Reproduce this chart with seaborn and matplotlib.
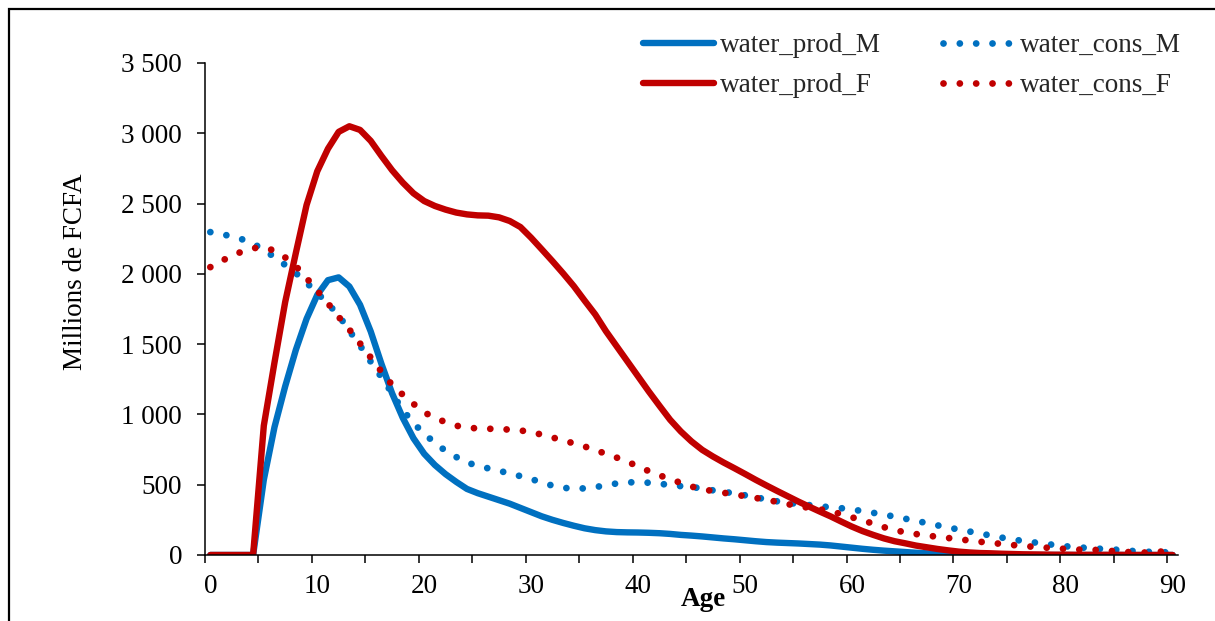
import numpy as np
import pandas as pd
import matplotlib
matplotlib.use("Agg")
import matplotlib.pyplot as plt
import seaborn as sns
from matplotlib.patches import Rectangle
from matplotlib.ticker import FuncFormatter, MultipleLocator

ages = list(range(0, 91))

water_prod_M = [0, 0, 0, 0, 0, 535, 910, 1200, 1460, 1680,
                1850, 1955, 1975, 1910, 1780, 1590, 1360, 1150, 975, 830,
                720, 640, 575, 520, 470, 440, 415, 390, 365, 335,
                305, 275, 250, 228, 208, 190, 177, 168, 163, 161,
                160, 158, 155, 150, 143, 138, 132, 125, 118, 112,
                105, 98, 92, 88, 85, 82, 78, 74, 68, 60,
                52, 44, 37, 31, 26, 21, 16, 12, 9, 6,
                4, 3, 2, 1, 1, 1, 0, 0, 0, 0,
                0, 0, 0, 0, 0, 0, 0, 0, 0, 0, 0]

water_prod_F = [0, 0, 0, 0, 0, 920, 1370, 1800, 2150, 2490,
                2730, 2890, 3010, 3050, 3024, 2946, 2839, 2737, 2649, 2573,
                2518, 2483, 2457, 2436, 2423, 2416, 2414, 2402, 2376, 2333,
                2257, 2174, 2090, 2003, 1912, 1810, 1711, 1592, 1485, 1378,
                1271, 1164, 1062, 962, 879, 808, 748, 701, 658, 618,
                577, 535, 495, 456, 418, 380, 344, 309, 275, 238,
                202, 170, 143, 118, 98, 83, 67, 55, 43, 33,
                24, 18, 14, 12, 9, 7, 5, 4, 3, 2,
                2, 1, 1, 1, 1, 1, 0, 0, 0, 0, 0]

water_cons_M = [2297, 2285, 2265, 2245, 2215, 2172, 2118, 2063, 2005, 1937,
                1863, 1787, 1705, 1595, 1490, 1375, 1265, 1150, 1030, 940,
                860, 800, 740, 697, 657, 636, 616, 599, 580, 561,
                540, 517, 493, 478, 472, 474, 483, 496, 509, 517,
                517, 514, 507, 498, 490, 484, 473, 460, 450, 438,
                425, 410, 396, 382, 372, 362, 355, 346, 340, 333,
                324, 312, 300, 287, 273, 258, 243, 227, 211, 196,
                181, 167, 153, 138, 124, 111, 100, 90, 80, 71,
                62, 56, 50, 45, 42, 36, 30, 25, 22, 20, 18]

water_cons_F = [2048, 2090, 2128, 2160, 2183, 2188, 2165, 2117, 2055, 1970,
                1880, 1790, 1694, 1604, 1505, 1405, 1305, 1210, 1140, 1075,
                1015, 975, 945, 920, 905, 901, 898, 896, 892, 886,
                875, 856, 836, 815, 794, 772, 746, 720, 693, 664,
                630, 597, 567, 540, 513, 487, 468, 455, 443, 430,
                419, 406, 393, 378, 362, 347, 336, 325, 312, 290,
                268, 247, 222, 198, 176, 162, 149, 138, 130, 121,
                112, 103, 94, 86, 79, 71, 65, 58, 53, 48,
                43, 39, 36, 36, 30, 25, 20, 18, 17, 25, 42]

series_names = ["water_prod_M", "water_cons_M", "water_prod_F", "water_cons_F"]
x_tick_labels = [str(v) for v in range(0, 91, 10)]

BLUE = "#0070C0"
RED = "#C00000"
FS = 19.5
LEG_FS = 19.5

sns.set_theme(style="white")
plt.rcParams["font.family"] = ["Liberation Serif", "DejaVu Serif"]
plt.rcParams["axes.unicode_minus"] = False

df = pd.DataFrame({
    "age": ages,
    "water_prod_M": water_prod_M,
    "water_prod_F": water_prod_F,
    "water_cons_M": water_cons_M,
    "water_cons_F": water_cons_F,
})
# categories are centred between tick marks (Excel category axis)
df["pos"] = df["age"] + 0.5

fig = plt.figure(figsize=(12.15, 6.21), dpi=100)
ax = fig.add_axes([205 / 1215, 66 / 621, 973 / 1215, 492 / 621])

dot_style = (0, (0.001, 2.4))
styles = {
    "water_prod_M": dict(color=BLUE, linestyle="-", linewidth=4.6,
                         solid_capstyle="round", solid_joinstyle="round"),
    "water_prod_F": dict(color=RED, linestyle="-", linewidth=4.6,
                         solid_capstyle="round", solid_joinstyle="round"),
    "water_cons_M": dict(color=BLUE, linestyle=dot_style, linewidth=4.9,
                         dash_capstyle="round"),
    "water_cons_F": dict(color=RED, linestyle=dot_style, linewidth=4.9,
                         dash_capstyle="round"),
}

for name in series_names:
    sns.lineplot(data=df, x="pos", y=name, ax=ax, label=name, **styles[name])

ax.set_xlim(0, 91)
ax.set_ylim(0, 3500)

ax.xaxis.set_major_locator(MultipleLocator(5))
ax.xaxis.set_major_formatter(FuncFormatter(lambda v, p: ""))
ax.set_xticks([v + 0.5 for v in range(0, 91, 10)], labels=x_tick_labels, minor=True)
ax.yaxis.set_major_locator(MultipleLocator(500))
ax.yaxis.set_major_formatter(FuncFormatter(lambda v, p: f"{int(v):,}".replace(",", " ")))

ax.tick_params(axis="x", which="major", direction="out", length=5.5, width=1.1,
               color="black", bottom=True)
ax.tick_params(axis="x", which="minor", length=0, pad=14, labelsize=FS,
               labelcolor="black", bottom=True)
ax.tick_params(axis="y", which="major", direction="out", length=5.5, width=1.1,
               color="black", pad=11, labelsize=FS, labelcolor="black", left=True)

for s in ["top", "right"]:
    ax.spines[s].set_visible(False)
for s in ["left", "bottom"]:
    ax.spines[s].set_color("black")
    ax.spines[s].set_linewidth(1.1)

ax.set_xlabel("")
ax.set_ylabel("")
ax.grid(False)

fig.text(75 / 1215, 1 - 272 / 621, "Millions de FCFA", rotation=90,
         ha="center", va="center", fontsize=FS, color="black")
fig.text(703 / 1215, 1 - 599 / 621, "Age", ha="center", va="center",
         fontsize=FS, fontweight="bold", color="black")

handles, labels = ax.get_legend_handles_labels()
hmap = dict(zip(labels, handles))
order = ["water_prod_M", "water_prod_F", "water_cons_M", "water_cons_F"]
ax.legend([hmap[k] for k in order], order, ncol=2, frameon=False,
          loc="upper left", bbox_to_anchor=(643 / 1215, 1 - 33 / 621),
          bbox_transform=fig.transFigure, borderpad=0, borderaxespad=0,
          handlelength=2.62, handletextpad=0.22, columnspacing=2.3,
          labelspacing=0.56, fontsize=LEG_FS)

fig.patches.append(Rectangle((9 / 1215, -0.1), 1.5, 1.1 - 9 / 621,
                             transform=fig.transFigure, fill=False,
                             edgecolor="black", linewidth=1.6, zorder=10))

fig.savefig("out.png", dpi=100)
